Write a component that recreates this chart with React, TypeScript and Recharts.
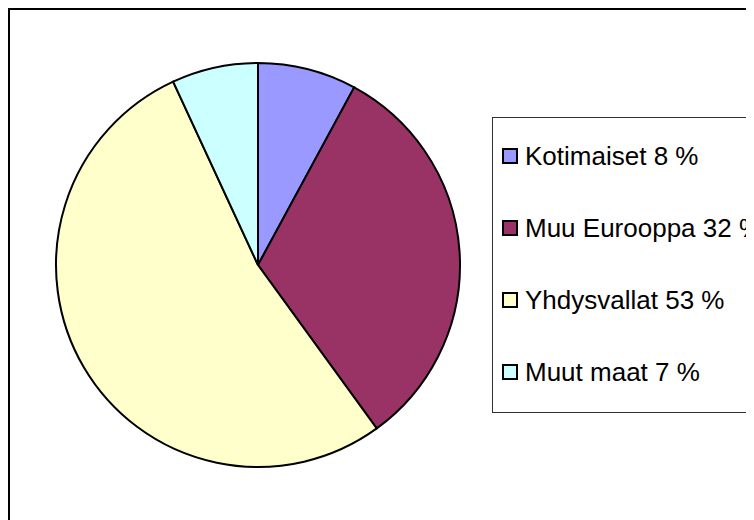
import { Cell, Legend, Pie, PieChart } from "recharts";

const names = ["Kotimaiset", "Muu Eurooppa", "Yhdysvallat", "Muut maat"];
const shares = [7.9, 32.1, 53.1, 6.9];
const labels = ["8 %", "32 %", "53 %", "7 %"];
const colors = ["#9999ff", "#993366", "#ffffcc", "#ccffff"];

const data = names.map((name, i) => ({ name, value: shares[i] }));

const font = '"Liberation Sans", Arial, sans-serif';

function LegendBox() {
  return (
    <div
      style={{
        width: 320,
        height: 292,
        border: "1px solid #333",
        background: "#fff",
        boxSizing: "content-box",
        paddingTop: 2,
        fontFamily: font,
      }}
    >
      {names.map((name, i) => (
        <div
          key={name}
          style={{ height: 72, display: "flex", alignItems: "center", paddingLeft: 9 }}
        >
          <span
            style={{
              width: 12,
              height: 12,
              border: "2px solid #000",
              background: colors[i],
              marginRight: 7,
              flexShrink: 0,
            }}
          />
          <span style={{ fontSize: 26, color: "#000", whiteSpace: "nowrap" }}>
            {name} {labels[i]}
          </span>
        </div>
      ))}
    </div>
  );
}

export default function App() {
  return (
    <div style={{ width: 746, height: 512, overflow: "hidden", background: "#fff" }}>
      <div style={{ width: 800, height: 560, border: "2px solid #000", boxSizing: "border-box" }}>
        <PieChart width={796} height={556} margin={{ top: 0, right: 0, bottom: 0, left: 0 }}>
          <Pie
            data={data}
            dataKey="value"
            nameKey="name"
            cx={248}
            cy={255}
            outerRadius={202}
            startAngle={90}
            endAngle={-270}
            stroke="#000"
            strokeWidth={2}
            isAnimationActive={false}
            label={false}
            labelLine={false}
          >
            {data.map((d, i) => (
              <Cell key={d.name} fill={colors[i]} />
            ))}
          </Pie>
          <Legend
            content={() => <LegendBox />}
            wrapperStyle={{ position: "absolute", left: 482, top: 107, width: 322 }}
          />
        </PieChart>
      </div>
    </div>
  );
}
